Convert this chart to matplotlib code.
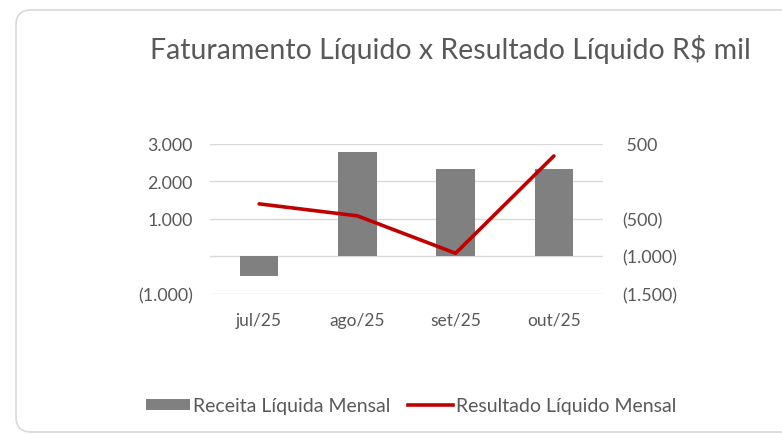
import matplotlib
matplotlib.use("Agg")
import matplotlib.pyplot as plt
from matplotlib.patches import FancyBboxPatch, Patch
from matplotlib.lines import Line2D
from matplotlib.transforms import IdentityTransform
from matplotlib.ticker import FuncFormatter, FixedLocator
import numpy as np

categories = ["jul/25", "ago/25", "set/25", "out/25"]
receita = [-520, 2780, 2330, 2330]
resultado = [-300, -460, -960, 340]
left_ticks = [-1000, 0, 1000, 2000, 3000]
right_ticks = [-1500, -1000, -500, 0, 500]

plt.rcParams['font.family'] = ['Lato', 'DejaVu Sans']
TXT = '#595959'

W, H = 782, 435
fig = plt.figure(figsize=(W/100, H/100), dpi=100)
fig.patch.set_facecolor('white')

card = FancyBboxPatch((16, 2), 800, 422, boxstyle="round,pad=0,rounding_size=15",
                      transform=IdentityTransform(), facecolor='white',
                      edgecolor='#D9D9D9', linewidth=1.2, zorder=-5)
fig.patches.append(card)

ax = fig.add_axes([210/W, 1-294.7/H, (603-210)/W, (294.7-145)/H])
ax.set_zorder(2)
ax.patch.set_visible(False)
x = np.arange(len(categories))
ax.bar(x, receita, width=0.39, color='#808080', zorder=2)
ax.set_xlim(-0.5, len(categories)-0.5)
ax.set_ylim(-1000, 3000)
ax.yaxis.set_major_locator(FixedLocator(left_ticks))

def fmt(v, pos=None):
    v = int(round(v))
    if v == 0:
        return ''
    s = f"{abs(v):,}".replace(',', '.')
    return f"({s})" if v < 0 else s

ax.yaxis.set_major_formatter(FuncFormatter(fmt))
ax.grid(axis='y', color='#D9D9D9', linewidth=1, zorder=0)
ax.set_axisbelow(True)
for s in ax.spines.values():
    s.set_visible(False)
ax.tick_params(axis='y', length=0, labelsize=12.8, labelcolor=TXT, pad=12.5)
ax.tick_params(axis='x', length=0, labelsize=12.5, labelcolor=TXT, pad=13)
ax.set_xticks(x)
ax.set_xticklabels(categories)

ax2 = ax.twinx()
ax2.set_zorder(3)
ax2.patch.set_visible(False)
ax2.plot(x, resultado, color='#C00000', linewidth=2.6, zorder=3, solid_capstyle='round')
ax2.set_ylim(-1500, 500)
ax2.yaxis.set_major_locator(FixedLocator(right_ticks))

def fmt2(v, pos=None):
    s = fmt(v)
    if s and not s.startswith('('):
        s = ' ' + s
    return s

ax2.yaxis.set_major_formatter(FuncFormatter(fmt2))
for s in ax2.spines.values():
    s.set_visible(False)
ax2.tick_params(axis='y', length=0, labelsize=12.8, labelcolor=TXT, pad=14)

fig.text(450/W, 1-50/H, "Faturamento Líquido x Resultado Líquido R$ mil",
         ha='center', va='center', fontsize=20.5, color=TXT)

handles = [Patch(facecolor='#808080', edgecolor='none'),
           Line2D([0], [0], color='#C00000', linewidth=2.6)]
leg = fig.legend(handles, ["Receita Líquida Mensal", "Resultado Líquido Mensal"],
                 loc='center', bbox_to_anchor=(411/W, 1-407/H), ncol=2, frameon=False,
                 fontsize=14, handlelength=2.3, handleheight=0.55, handletextpad=0.15,
                 columnspacing=0.9)
for t in leg.get_texts():
    t.set_color(TXT)

fig.savefig("out.png", dpi=100)
